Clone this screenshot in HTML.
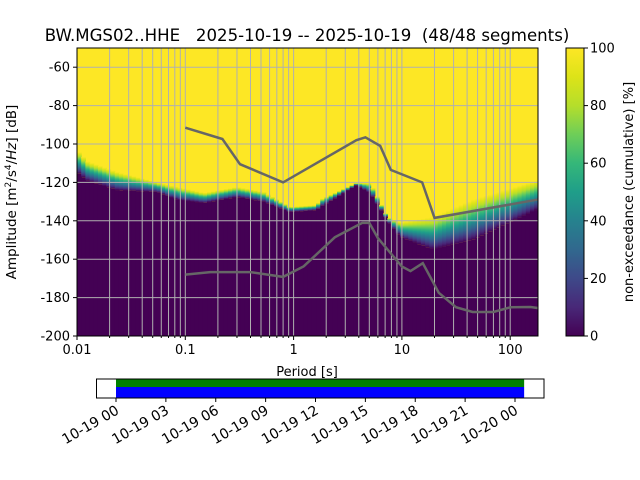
<!DOCTYPE html>
<html><head><meta charset="utf-8"><style>
body{margin:0;background:#fff;}
svg{display:block;font-family:"DejaVu Sans","Liberation Sans",sans-serif;}
</style></head><body>
<svg id="fig" width="640" height="480" viewBox="0 0 640 480">
<defs>
<linearGradient id="vir" x1="0" y1="1" x2="0" y2="0">
<stop offset="0" stop-color="#440154"/><stop offset="0.1" stop-color="#482878"/><stop offset="0.2" stop-color="#3e4989"/><stop offset="0.3" stop-color="#31688e"/><stop offset="0.4" stop-color="#26828e"/><stop offset="0.5" stop-color="#1f9e89"/><stop offset="0.6" stop-color="#35b779"/><stop offset="0.7" stop-color="#6ece58"/><stop offset="0.8" stop-color="#b5de2b"/><stop offset="0.9" stop-color="#dde318"/><stop offset="1" stop-color="#fde725"/>
</linearGradient>
<clipPath id="clipMain"><rect x="77" y="48" width="461" height="288"/></clipPath>
</defs>
<text x="307" y="41" font-size="16.6" text-anchor="middle" style="white-space:pre" xml:space="preserve">BW.MGS02..HHE   2025-10-19 -- 2025-10-19  (48/48 segments)</text>
<g id="img" clip-path="url(#clipMain)"></g>
<g id="grid" clip-path="url(#clipMain)"></g>
<g id="models" clip-path="url(#clipMain)"></g>
<rect x="77" y="48" width="461" height="288" fill="none" stroke="#000" stroke-width="1"/>
<g id="axes"></g>
<text x="307" y="376" font-size="13" text-anchor="middle">Period [s]</text>
<text transform="translate(16,192) rotate(-90)" font-size="13.5" text-anchor="middle">Amplitude [m<tspan font-size="9" dy="-5">2</tspan><tspan dy="5">/s</tspan><tspan font-size="9" dy="-5">4</tspan><tspan dy="5">/</tspan><tspan font-style="italic">Hz</tspan>] [dB]</text>
<rect x="566" y="48" width="18" height="288" fill="url(#vir)" stroke="#000" stroke-width="1"/>
<g id="cbar"></g>
<text transform="translate(633,192) rotate(-90)" font-size="13" text-anchor="middle">non-exceedance (cumulative) [%]</text>
<g id="timeline"></g>
</svg>
<script>
const NS="http://www.w3.org/2000/svg";
// spectrum band data: period, dB where yellow (100%) starts, dB where purple (0%) ends
const periods=[0.01,0.0124,0.0234,0.055,0.084,0.149,0.30,0.53,0.92,1.64,1.75,3.8,5.1,7.3,9.6,19.4,45,180];
const yellowDb=[-103,-109,-114.6,-120,-122.4,-125.5,-122.4,-125,-132.8,-131.8,-129,-120.3,-120.3,-138,-141,-138,-129,-118.8];
const purpleDb=[-114.6,-119,-124,-125,-129,-130.7,-127.6,-130,-135.4,-134.4,-133,-121.4,-125.5,-139.6,-148.4,-155,-150,-134];
const nhnmP=[0.1,0.22,0.32,0.8,3.8,4.6,6.3,7.9,15.4,20,354.8];
const nhnmDb=[-91.5,-97.4,-110.5,-120,-98,-96.5,-101,-113.5,-120,-138.5,-126];
const nlnmP=[0.1,0.17,0.4,0.8,1.24,2.4,4.3,5,6,10,12,15.6,21.9,31.6,45,70,101,154,328];
const nlnmDb=[-168,-166.7,-166.7,-169.2,-163.7,-148.6,-141.1,-141.1,-149,-163.8,-166.2,-162.1,-177.5,-185,-187.5,-187.5,-185,-184.9,-187.5];
const yTicks=[-60,-80,-100,-120,-140,-160,-180,-200];
const xTickLabels=["0.01","0.1","1","10","100"];
const cbTicks=[0,20,40,60,80,100];
const timeLabels=["10-19 00","10-19 03","10-19 06","10-19 09","10-19 12","10-19 15","10-19 18","10-19 21","10-20 00"];
const segStart=0, segEnd=24.55; // hours

const X0=77,X1=538,Y0=48,Y1=336;
const xs=p=>X0+(Math.log10(p)+2)*108.3;
const ys=d=>Y1-(d+200)*1.92;
function mk(tag,attrs,parent){const e=document.createElementNS(NS,tag);for(const k in attrs)e.setAttribute(k,attrs[k]);parent.appendChild(e);return e;}
const img=document.getElementById('img');
mk('rect',{x:X0,y:Y0,width:X1-X0,height:Y1-Y0,fill:'#fde725'},img);
function interp(arrP,arrV,p){const lp=Math.log10(p);
  if(p<=arrP[0])return arrV[0];
  for(let i=1;i<arrP.length;i++){if(p<=arrP[i]){const a=Math.log10(arrP[i-1]),b=Math.log10(arrP[i]);return arrV[i-1]+(arrV[i]-arrV[i-1])*(lp-a)/(b-a);}}
  return arrV[arrV.length-1];}
const nCol=110;
for(let i=0;i<nCol;i++){
  const l0=-2+i*(4.26/nCol), l1=-2+(i+1)*(4.26/nCol);
  const pm=Math.pow(10,(l0+l1)/2);
  const yT=ys(interp(periods,yellowDb,pm)), yP=ys(interp(periods,purpleDb,pm));
  const xa=xs(Math.pow(10,l0)), xb=xs(Math.pow(10,l1));
  const g=mk('rect',{x:xa,y:yT,width:xb-xa+0.6,height:Math.max(0.5,yP-yT),fill:'url(#vir)'},img);
  
  
  const r=mk('rect',{x:xa,y:yP,width:xb-xa+0.6,height:Y1-yP,fill:'#440154'},img);
  
  
}
const grid=document.getElementById('grid');
for(let d=-2;d<=2;d++)for(let m=1;m<=9;m++){const p=m*Math.pow(10,d);const x=xs(p);if(x<X0||x>X1)continue;
  const l=mk('line',{x1:x,y1:Y0,x2:x,y2:Y1,stroke:'#b0b0b0','stroke-width':1},grid);
  
  }
yTicks.forEach(t=>{const y=ys(t);const l=mk('line',{x1:X0,y1:y,x2:X1,y2:y,stroke:'#b0b0b0','stroke-width':1},grid);
  
  });
const models=document.getElementById('models');
function line(P,V,name){const pts=P.map((p,i)=>xs(p).toFixed(1)+','+ys(V[i]).toFixed(1)).join(' ');
  const e=mk('polyline',{points:pts,fill:'none',stroke:'#666','stroke-width':2.5},models);
  
  }
line(nhnmP,nhnmDb,'nhnm-line');line(nlnmP,nlnmDb,'nlnm-line');
const axes=document.getElementById('axes');
yTicks.forEach(t=>{const y=ys(t);mk('line',{x1:X0-4,y1:y,x2:X0,y2:y,stroke:'#000'},axes);
  const tx=mk('text',{x:X0-7,y:y+4.5,'font-size':13,'text-anchor':'end'},axes);tx.textContent=t;
  
  });
xTickLabels.forEach((s,i)=>{const x=xs(Math.pow(10,i-2));mk('line',{x1:x,y1:Y1,x2:x,y2:Y1+4,stroke:'#000'},axes);
  const tx=mk('text',{x:x,y:Y1+18,'font-size':13,'text-anchor':'middle'},axes);tx.textContent=s;
  
  });
for(let d=-2;d<=2;d++)for(let m=2;m<=9;m++){const x=xs(m*Math.pow(10,d));if(x>X1)continue;mk('line',{x1:x,y1:Y1,x2:x,y2:Y1+2,stroke:'#000'},axes);}
const cb=document.getElementById('cbar');
cbTicks.forEach(t=>{const y=336-t*2.88;mk('line',{x1:584,y1:y,x2:588,y2:y,stroke:'#000'},cb);
  const tx=mk('text',{x:590,y:y+4.5,'font-size':13},cb);tx.textContent=t;
  
  });
const tl=document.getElementById('timeline');
const tx0=116, hpx=399/24;
const th=h=>tx0+h*hpx;
const gb=mk('rect',{x:th(segStart),y:379,width:th(segEnd)-th(segStart),height:8,fill:'#008000'},tl);


const bb=mk('rect',{x:th(segStart),y:387,width:th(segEnd)-th(segStart),height:11,fill:'#0000ff'},tl);


mk('rect',{x:96.5,y:379,width:447.5,height:19,fill:'none',stroke:'#000'},tl);
timeLabels.forEach((s,i)=>{const x=th(i*3);mk('line',{x1:x,y1:398,x2:x,y2:402,stroke:'#000'},tl);
  const t=mk('text',{transform:`translate(${x+4},${413}) rotate(-30)`,'font-size':14,'text-anchor':'end'},tl);t.textContent=s;
  
  });
</script>
</body></html>
